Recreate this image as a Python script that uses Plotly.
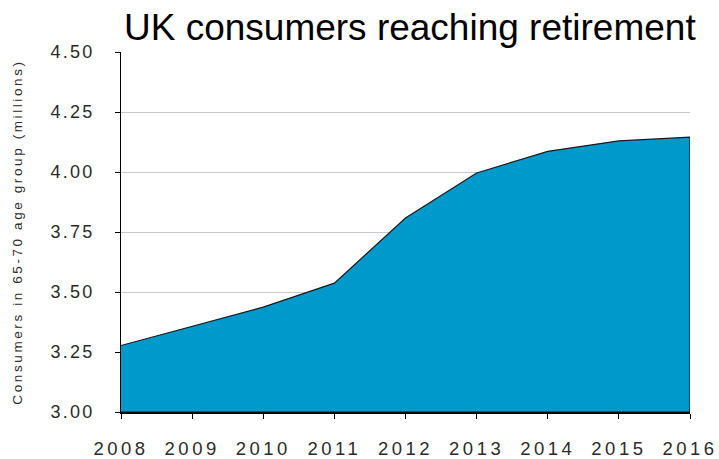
import plotly.graph_objects as go

# UK population aged 65-70, millions
years = [2008, 2009, 2010, 2011, 2012, 2013, 2014, 2015, 2016]
consumers = [3.277, 3.357, 3.437, 3.537, 3.808, 3.996, 4.086, 4.130, 4.145]
y_ticks = [3.00, 3.25, 3.50, 3.75, 4.00, 4.25, 4.50]
y_floor = y_ticks[0]

title_text = "UK consumers reaching retirement"
y_title_text = "Consumers in 65-70 age group (millions)"


def spaced(text, px):
    """Wrap text in a span with extra letter spacing."""
    return f'<span style="letter-spacing:{px}px">{text}</span>'


# closed outline of the area down to the axis floor
poly_x = years + [years[-1], years[0]]
poly_y = consumers + [y_floor, y_floor]

fig = go.Figure()
fig.add_trace(go.Scatter(
    x=poly_x, y=poly_y,
    mode="lines",
    fill="toself",
    fillcolor="#0099CC",
    line=dict(color="#1a1a1a", width=1.2),
    hoverinfo="skip",
    showlegend=False,
))

sans = "Liberation Sans, Arial, sans-serif"
text_color = "#2b2b2b"

fig.update_layout(
    width=719, height=459,
    margin=dict(l=121, r=29, t=52, b=47, autoexpand=False),
    paper_bgcolor="white",
    plot_bgcolor="white",
    title=dict(
        text=title_text,
        font=dict(family=sans, size=37, color="black"),
        x=0.570, xanchor="center",
        xref="container",
        y=0.94, yanchor="middle",
        yref="container",
    ),
    xaxis=dict(
        range=[years[0], years[-1]],
        tickmode="array",
        tickvals=years,
        ticktext=[spaced(str(y), 3.5) for y in years],
        ticks="outside", ticklen=5, tickwidth=1, tickcolor="black",
        showline=True, linecolor="black", linewidth=2,
        showgrid=False, zeroline=False,
        tickfont=dict(family=sans, size=18.5, color=text_color),
        ticklabelstandoff=14,
        automargin=False,
    ),
    yaxis=dict(
        range=[y_ticks[0], y_ticks[-1]],
        tickmode="array",
        tickvals=y_ticks,
        ticktext=[spaced(f"{v:.2f}", 2.2) for v in y_ticks],
        ticks="outside", ticklen=5, tickwidth=1, tickcolor="black",
        showline=True, linecolor="black", linewidth=1,
        showgrid=True, gridcolor="#c8c8c8", gridwidth=1,
        zeroline=False,
        tickfont=dict(family=sans, size=18, color=text_color),
        ticklabelstandoff=17,
        automargin=False,
        title=dict(
            text=spaced(y_title_text, 2.6),
            font=dict(family=sans, size=13.5, color=text_color),
            standoff=24,
        ),
    ),
)

fig.write_html("out.html")
